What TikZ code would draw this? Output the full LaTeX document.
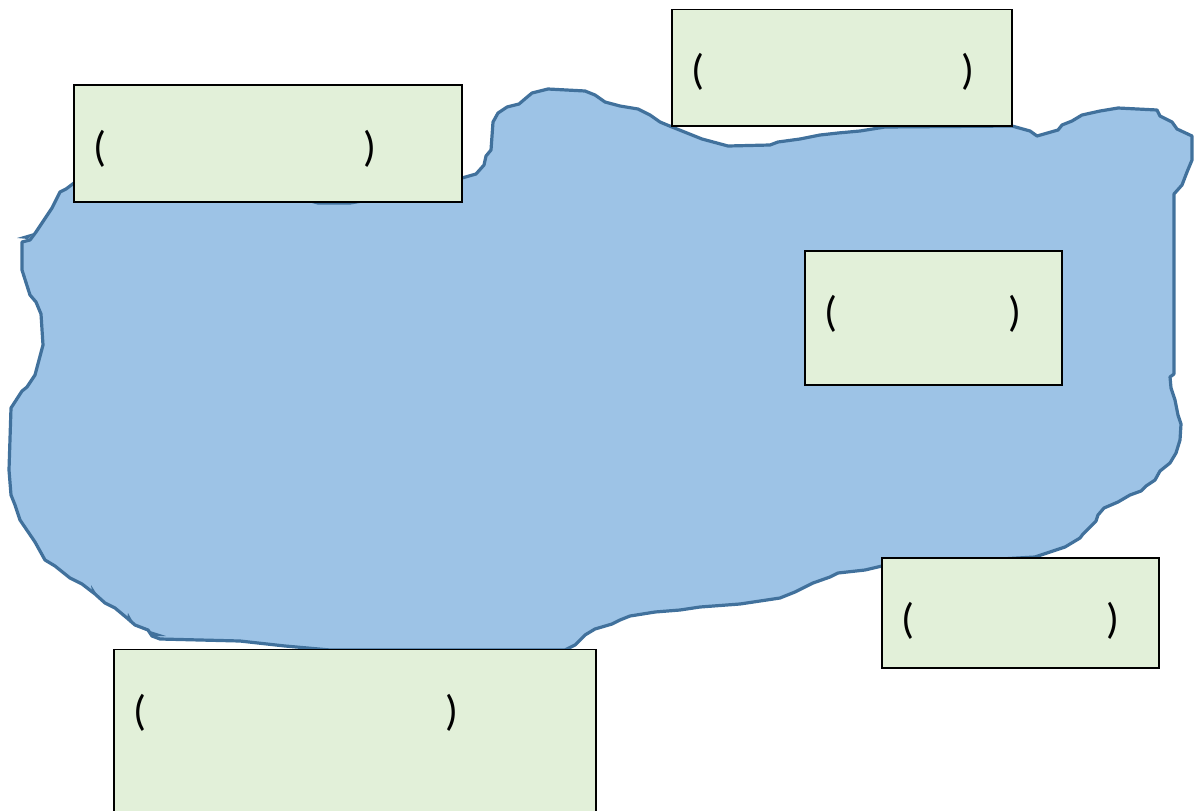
\documentclass[tikz,border=0pt]{standalone}
\usepackage{fontspec}
\setmainfont{Carlito}
\definecolor{lakefill}{HTML}{9DC3E6}
\definecolor{lakeline}{HTML}{41719C}
\definecolor{boxfill}{HTML}{E2F0D9}
\tikzset{
  labelbox/.style={draw=black,fill=boxfill,line width=1.4pt,anchor=north west,inner sep=0pt,outer sep=0pt},
  paren/.style={inner sep=0pt,font=\fontsize{32}{38}\selectfont}
}
\begin{document}
\begin{tikzpicture}[x=0.75pt,y=-0.75pt]

    \clip (0,0) rectangle (1202,810);

    \draw[lakeline,fill=lakefill,line width=2.4pt,line join=round]
        (36,232) -- (52,208) -- (60,192) -- (66,189) -- (74,183) -- (100,190) -- (300,198) -- (318,203) -- (350,203) -- (380,198)
        -- (462,178) -- (476,174) -- (484,165) -- (486,156) -- (491,150) -- (493,122) -- (498,113)
        -- (507,107) -- (519,104) -- (526,98) -- (532,93) -- (548,89) -- (585,91) -- (595,95)
        -- (605,102) -- (620,106) -- (638,109) -- (650,115) -- (660,122) -- (672,127) -- (702,139)
        -- (728,146) -- (770,145) -- (778,142) -- (800,139) -- (820,135) -- (838,133) -- (860,131)
        -- (885,127) -- (1012,126) -- (1030,131) -- (1037,136) -- (1058,130) -- (1062,125) -- (1072,121)
        -- (1082,115) -- (1100,111) -- (1118,108) -- (1157,110) -- (1160,116) -- (1172,122) -- (1177,129)
        -- (1192,136) -- (1192,160) -- (1187,172) -- (1182,185) -- (1174,194) -- (1174,374) -- (1170,377)
        -- (1171,388) -- (1175,400) -- (1178,415) -- (1181,424) -- (1180,440) -- (1176,453) -- (1170,463)
        -- (1160,471) -- (1155,480) -- (1146,486) -- (1141,491) -- (1130,495) -- (1118,502) -- (1104,508)
        -- (1098,515) -- (1096,521) -- (1083,534) -- (1080,538) -- (1065,547) -- (1035,557) -- (882,566)
        -- (865,570) -- (838,573) -- (830,577) -- (813,583) -- (795,592) -- (780,598) -- (740,604)
        -- (700,607) -- (680,610) -- (655,612) -- (630,616) -- (620,620) -- (612,624) -- (595,629)
        -- (585,635) -- (575,645) -- (565,650) -- (330,650) -- (285,646) -- (240,641) -- (160,639)
        -- (152,636) -- (148,630) -- (135,625) -- (127,618)
        -- (115,608) -- (105,603) -- (95,594) -- (82,584) -- (70,578) -- (55,566)
        -- (45,560) -- (35,542) -- (20,520) -- (15,505) -- (11,495) -- (9,470) -- (11,408) -- (22,391)
        -- (27,387) -- (35,375) -- (43,345) -- (41,314) -- (36,302) -- (30,295) -- (22,270) -- (22,242)
        -- (30,240) -- cycle;

    \fill[lakeline] (17,238) -- (34,233) -- (28,239) -- cycle;
    \fill[lakeline] (150,631) -- (166,636) -- (153,636) -- cycle;
    \fill[lakeline] (128,613) -- (133,622) -- (127,619) -- cycle;
    \fill[lakeline] (91,585) -- (96,593) -- (92,591) -- cycle;

    \node[labelbox,minimum width=291pt,minimum height=87.75pt] (boxa) at (74,85) {};
    \node[labelbox,minimum width=255pt,minimum height=87.5pt] (boxb) at (672,9.5) {};
    \node[labelbox,minimum width=192.75pt,minimum height=100.5pt] (boxc) at (805,251) {};
    \node[labelbox,minimum width=207.75pt,minimum height=82.5pt] (boxd) at (882,558) {};
    \node[labelbox,minimum width=361.5pt,minimum height=150pt] (boxe) at (114,649.5) {};

    \node[paren] (aleft) at (100,149) {(};
    \node[paren] (aright) at (370,149) {)};
    \node[paren] (bleft) at (698,72) {(};
    \node[paren] (bright) at (968,72) {)};
    \node[paren] (cleft) at (831,314) {(};
    \node[paren] (cright) at (1015,314) {)};
    \node[paren] (dleft) at (908,621) {(};
    \node[paren] (dright) at (1113,621) {)};
    \node[paren] (eleft) at (140,713) {(};
    \node[paren] (eright) at (452,713) {)};

\end{tikzpicture}
\end{document}
